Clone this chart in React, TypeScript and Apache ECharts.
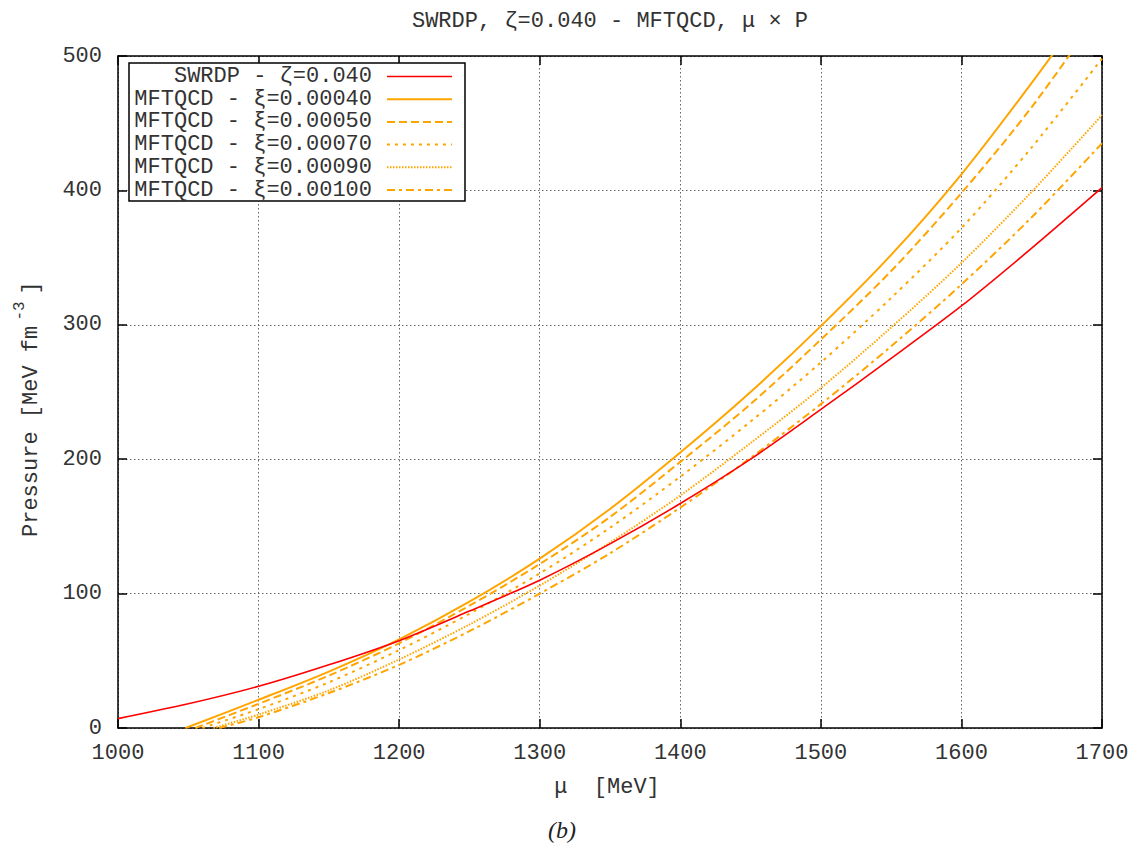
import React, { useEffect, useRef } from 'react';
import * as echarts from 'echarts';

const titleText = 'SWRDP, ζ=0.040 - MFTQCD, μ × P';
const xLabel = 'μ  [MeV]';
const caption = '(b)';

const xMin = 1000, xMax = 1700, xStep = 100;
const yMin = 0, yMax = 500, yStep = 100;

const seriesNames = [
  'SWRDP - ζ=0.040',
  'MFTQCD - ξ=0.00040',
  'MFTQCD - ξ=0.00050',
  'MFTQCD - ξ=0.00070',
  'MFTQCD - ξ=0.00090',
  'MFTQCD - ξ=0.00100',
];

const muSWRDP = [1000, 1050, 1100, 1150, 1200, 1250, 1300, 1350, 1400, 1450, 1500, 1550, 1600, 1650, 1700];
const pSWRDP = [7, 18, 31, 47, 65, 87, 110, 137, 167, 200, 237, 275, 314, 357, 402];

const mu00040 = [1048, 1100, 1150, 1200, 1250, 1300, 1350, 1400, 1450, 1500, 1550, 1600, 1650, 1700];
const p00040 = [0, 21, 42, 66, 94, 126, 163, 205, 250, 299, 352, 412, 480, 552];

const mu00050 = [1055, 1100, 1150, 1200, 1250, 1300, 1350, 1400, 1450, 1500, 1550, 1600, 1650, 1700];
const p00050 = [0, 18, 39, 63, 91, 122, 157, 198, 241, 289, 340, 398, 462, 535];

const mu00070 = [1060, 1100, 1150, 1200, 1250, 1300, 1350, 1400, 1450, 1500, 1550, 1600, 1650, 1700];
const p00070 = [0, 14, 34, 58, 85, 115, 149, 187, 228, 272, 320, 372, 432, 498];

const mu00090 = [1068, 1100, 1150, 1200, 1250, 1300, 1350, 1400, 1450, 1500, 1550, 1600, 1650, 1700];
const p00090 = [0, 10, 28, 51, 77, 106, 138, 173, 212, 253, 298, 346, 399, 456];

const mu00100 = [1072, 1100, 1150, 1200, 1250, 1300, 1350, 1400, 1450, 1500, 1550, 1600, 1650, 1700];
const p00100 = [0, 8, 26, 47, 72, 100, 130, 164, 201, 241, 284, 330, 380, 435];

const seriesMu = [muSWRDP, mu00040, mu00050, mu00070, mu00090, mu00100];
const seriesP = [pSWRDP, p00040, p00050, p00070, p00090, p00100];

const RED = '#ff0000';
const ORANGE = '#ffa500';
const lineStyles: any[] = [
  { color: RED, width: 1.6, type: 'solid' },
  { color: ORANGE, width: 2, type: 'solid' },
  { color: ORANGE, width: 2, type: [8, 4] },
  { color: ORANGE, width: 2, type: [3, 5] },
  { color: ORANGE, width: 2, type: [1.5, 1.5] },
  { color: ORANGE, width: 2, type: [8, 4, 3, 4] },
];

const FONT = 'Liberation Mono';
const TXT = '#333';
const FS = 22;

export default function App() {
  const ref = useRef<HTMLDivElement>(null);
  useEffect(() => {
    document.body.style.margin = '0';
    const chart = echarts.init(ref.current!, undefined, { renderer: 'svg' });

    const gridL = 118, gridT = 56, gridR = 34, gridB = 117;

    const series = seriesNames.map((name, i) => ({
      name,
      type: 'line',
      xAxisIndex: 0,
      yAxisIndex: 0,
      data: seriesMu[i].map((m, k) => [m, seriesP[i][k]]),
      showSymbol: false,
      symbol: 'none',
      smooth: 0.3,
      clip: true,
      lineStyle: lineStyles[i],
      z: 3 + (6 - i),
    }));

    const lgX = 129, lgY = 63, lgW = 336, lgH = 138;
    const rowY0 = 76.5, rowDy = 22.7;
    const legendEls: any[] = [
      {
        type: 'rect',
        shape: { x: lgX, y: lgY, width: lgW, height: lgH },
        style: { fill: '#fff', stroke: '#000', lineWidth: 1.5 },
        z: 100,
      },
    ];
    seriesNames.forEach((name, i) => {
      const y = rowY0 + rowDy * i;
      legendEls.push({
        type: 'text',
        x: 372,
        y,
        style: { text: name, font: `${FS}px "${FONT}"`, fill: TXT, align: 'right', verticalAlign: 'middle' },
        z: 101,
      });
      legendEls.push({
        type: 'line',
        shape: { x1: 387, y1: y, x2: 452, y2: y },
        style: {
          stroke: lineStyles[i].color,
          lineWidth: lineStyles[i].width,
          lineDash: Array.isArray(lineStyles[i].type) ? lineStyles[i].type : null,
        },
        z: 101,
      });
    });

    const axisCommon = {
      type: 'value',
      axisLine: { show: true, onZero: false, lineStyle: { color: '#000', width: 1.5 } },
      axisTick: { show: true, inside: true, length: 9, lineStyle: { color: '#000', width: 1.5 } },
    };
    const gridLine = { show: true, lineStyle: { color: '#666', width: 1, type: [1.5, 2.5] } };
    const fmt = (v: number) => String(v);

    const option: any = {
      animation: false,
      backgroundColor: '#fff',
      grid: { left: gridL, top: gridT, right: gridR, bottom: gridB, containLabel: false },
      xAxis: [
        {
          ...axisCommon,
          position: 'bottom',
          min: xMin,
          max: xMax,
          interval: xStep,
          axisLabel: { show: true, margin: 14, color: TXT, fontFamily: FONT, fontSize: FS, formatter: fmt },
          splitLine: gridLine,
        },
        {
          ...axisCommon,
          position: 'top',
          min: xMin,
          max: xMax,
          interval: xStep,
          axisLabel: { show: false },
          splitLine: { show: false },
        },
      ],
      yAxis: [
        {
          ...axisCommon,
          position: 'left',
          min: yMin,
          max: yMax,
          interval: yStep,
          axisLabel: { show: true, margin: 16, color: TXT, fontFamily: FONT, fontSize: FS, formatter: fmt },
          splitLine: gridLine,
        },
        {
          ...axisCommon,
          position: 'right',
          min: yMin,
          max: yMax,
          interval: yStep,
          axisLabel: { show: false },
          splitLine: { show: false },
        },
      ],
      series,
      graphic: [
        {
          type: 'text',
          x: 610,
          y: 21,
          style: { text: titleText, font: `${FS}px "${FONT}"`, fill: TXT, align: 'center', verticalAlign: 'middle' },
        },
        {
          type: 'text',
          x: 607,
          y: 787,
          style: { text: xLabel, font: `${FS}px "${FONT}"`, fill: TXT, align: 'center', verticalAlign: 'middle' },
        },
        {
          type: 'text',
          x: 562,
          y: 830,
          style: { text: caption, font: `italic 24px "Liberation Serif"`, fill: '#222', align: 'center', verticalAlign: 'middle' },
        },
        {
          type: 'group',
          x: 31,
          y: 400,
          rotation: Math.PI / 2,
          children: [
            {
              type: 'text',
              x: -137,
              y: 0,
              style: { text: 'Pressure [MeV fm', font: `${FS}px "${FONT}"`, fill: TXT, align: 'left', verticalAlign: 'middle' },
            },
            {
              type: 'text',
              x: 89,
              y: -11,
              style: { text: '-3', font: `16px "${FONT}"`, fill: TXT, align: 'center', verticalAlign: 'middle' },
            },
            {
              type: 'text',
              x: 112,
              y: 0,
              style: { text: ']', font: `${FS}px "${FONT}"`, fill: TXT, align: 'center', verticalAlign: 'middle' },
            },
          ],
        },
        ...legendEls,
      ],
    };
    chart.setOption(option);
    return () => chart.dispose();
  }, []);
  return <div ref={ref} style={{ width: 1136, height: 845 }} />;
}
